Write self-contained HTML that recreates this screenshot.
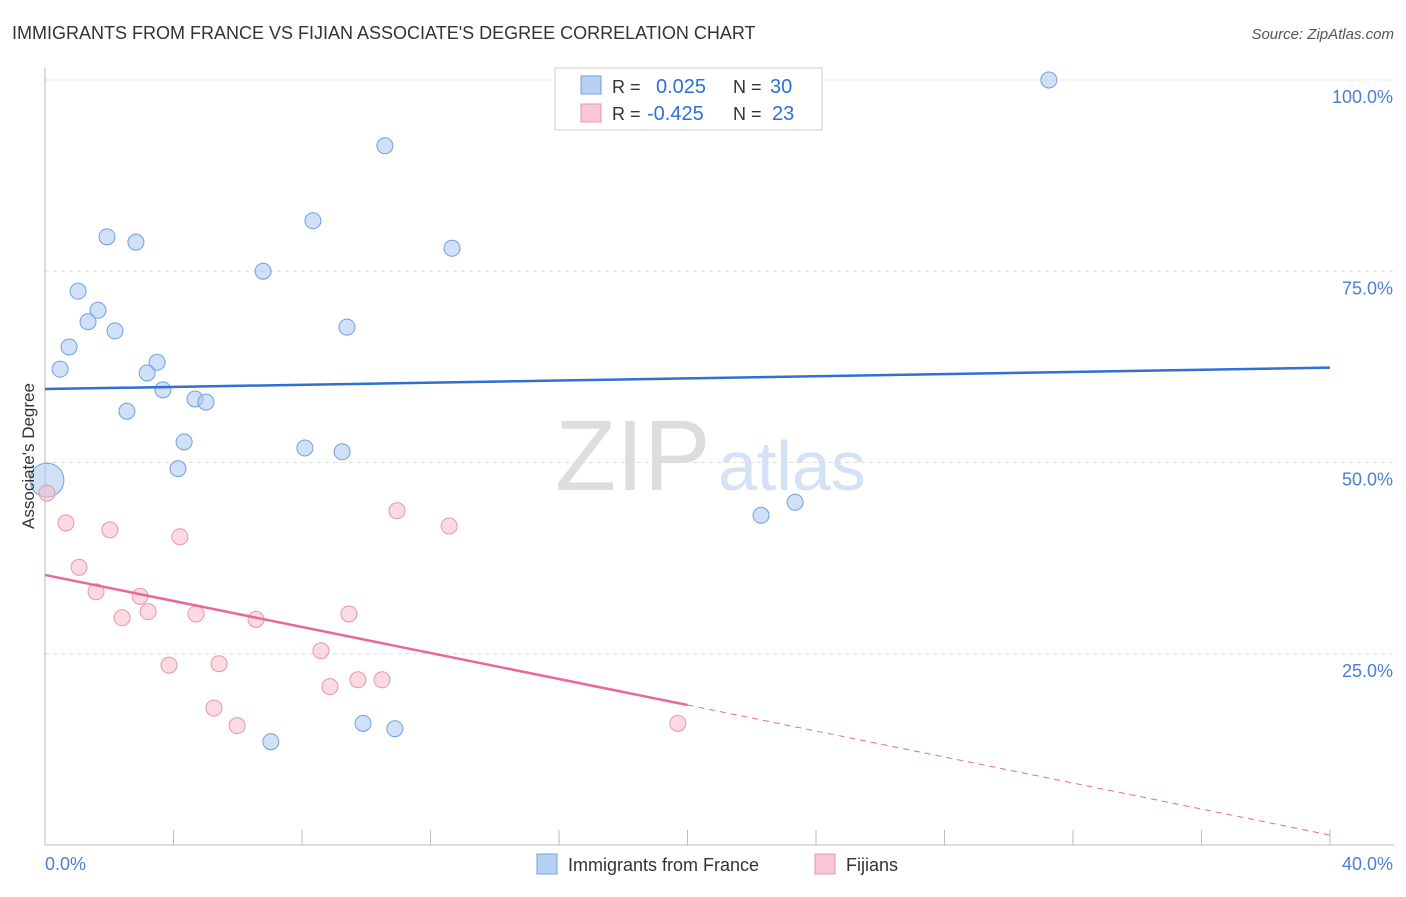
<!DOCTYPE html>
<html><head><meta charset="utf-8"><style>
body{margin:0;background:#fff;font-family:"Liberation Sans",sans-serif}
svg text{font-family:"Liberation Sans",sans-serif}
</style></head><body>
<svg width="1406" height="892" xmlns="http://www.w3.org/2000/svg">
<text x="12" y="39" font-size="18" fill="#333">IMMIGRANTS FROM FRANCE VS FIJIAN ASSOCIATE'S DEGREE CORRELATION CHART</text>
<text x="1394" y="39" font-size="15" fill="#555" text-anchor="end" font-style="italic">Source: ZipAtlas.com</text>
<text x="555" y="490" font-size="100" fill="#ddd" font-family="Liberation Serif,serif">ZIP</text>
<text x="718" y="490" font-size="70" fill="#d4e2f5">atlas</text>
<g id="grid"></g>
<g id="axes"></g>
<g id="marks"></g>
<text transform="translate(34,456) rotate(-90)" font-size="17" fill="#333" text-anchor="middle">Associate's Degree</text>
<text x="45" y="870" font-size="18" fill="#4a7fd4">0.0%</text>
<text x="1393" y="870" font-size="18" fill="#4a7fd4" text-anchor="end">40.0%</text>
<g>
<rect x="555" y="68" width="267" height="62" fill="#fff" stroke="#ccc"/>
<rect x="581" y="76" width="20" height="18" fill="#b7d1f5" stroke="#6fa0de"/>
<rect x="581" y="104" width="20" height="18" fill="#f9c8d6" stroke="#e895ae"/>
<text x="612" y="93" font-size="18" fill="#333">R = </text><text x="656" y="93" font-size="20" fill="#2f6fd6">0.025</text>
<text x="733" y="93" font-size="18" fill="#333">N = </text><text x="770" y="93" font-size="20" fill="#2f6fd6">30</text>
<text x="612" y="120" font-size="18" fill="#333">R = </text><text x="647" y="120" font-size="20" fill="#2f6fd6">-0.425</text>
<text x="733" y="120" font-size="18" fill="#333">N = </text><text x="772" y="120" font-size="20" fill="#2f6fd6">23</text>
</g>
<g>
<rect x="537" y="854" width="20" height="20" fill="#b7d1f5" stroke="#6fa0de"/>
<text x="568" y="871" font-size="18" fill="#333">Immigrants from France</text>
<rect x="815" y="854" width="20" height="20" fill="#f9c8d6" stroke="#e895ae"/>
<text x="846" y="871" font-size="18" fill="#333">Fijians</text>
</g>
</svg>
<script>
const yTicks=[25,50,75,100];
const yTickLabels=["25.0%","50.0%","75.0%","100.0%"];
const xTicks=[0,4,8,12,16,20,24,28,32,36,40];
const franceX=[31.25,10.58,8.34,1.93,2.83,12.67,6.79,1.03,1.65,1.34,9.40,2.18,0.75,3.49,0.47,3.18,3.67,4.67,5.01,2.55,4.33,8.09,9.25,4.14,0.06,22.29,23.35,7.03,9.90,10.89];
const franceY=[100,91.4,81.6,79.5,78.8,78.0,75.0,72.4,69.9,68.4,67.7,67.2,65.1,63.1,62.2,61.7,59.5,58.3,57.9,56.7,52.7,51.9,51.4,49.2,47.7,43.1,44.8,13.5,15.9,15.2];
const fijiX=[0.06,0.65,2.02,4.20,10.96,12.58,1.06,1.59,2.96,3.21,2.40,4.70,6.57,9.46,8.59,3.86,5.42,9.74,10.49,8.87,5.26,5.98,19.70];
const fijiY=[46.0,42.1,41.2,40.3,43.7,41.7,36.3,33.1,32.5,30.5,29.7,30.2,29.5,30.2,25.4,23.5,23.7,21.6,21.6,20.7,17.9,15.6,15.9];
const franceTrend=[59.6,62.4];
const fijiTrend=[35.3,1.3];
const fijiSolidEnd=20;
const NS="http://www.w3.org/2000/svg";
const sx=v=>45+v/40*1285, sy=v=>845-v/100*765;
function mk(t,a,p){const e=document.createElementNS(NS,t);for(const k in a)e.setAttribute(k,a[k]);document.getElementById(p).appendChild(e);return e;}
yTicks.forEach((t,i)=>{
 const l=mk('line',{x1:45,x2:1394,y1:sy(t),y2:sy(t),stroke:'#ddd','stroke-dasharray':'4,4'},'grid');
 
 
 const tx=mk('text',{x:1393,y:sy(t)+23,'font-size':18,fill:'#4a7fd4','text-anchor':'end'},'grid');
 tx.textContent=yTickLabels[i];
 
 
});
const ya=mk('line',{x1:45,x2:45,y1:68,y2:845,stroke:'#bbb'},'axes');


const xa=mk('line',{x1:45,x2:1394,y1:845,y2:845,stroke:'#bbb'},'axes');


xTicks.forEach(t=>{const l=mk('line',{x1:sx(t),x2:sx(t),y1:830,y2:845,stroke:'#bbb'},'axes');
 
 });
franceX.forEach((x,i)=>{const big=(i===24);const c=mk('circle',{cx:sx(x),cy:sy(franceY[i]),r:big?17:8,fill:'#a9c8f0','fill-opacity':0.55,stroke:'#6fa0de','stroke-width':1},'marks');
 
 });
fijiX.forEach((x,i)=>{const c=mk('circle',{cx:sx(x),cy:sy(fijiY[i]),r:8,fill:'#f7bccb','fill-opacity':0.55,stroke:'#e895ae','stroke-width':1},'marks');
 
 });
const bt=mk('line',{x1:sx(0),y1:sy(franceTrend[0]),x2:sx(40),y2:sy(franceTrend[1]),stroke:'#2f6fd6','stroke-width':2.5},'marks');


const fy=v=>fijiTrend[0]+(fijiTrend[1]-fijiTrend[0])*v/40;
const pt=mk('line',{x1:sx(0),y1:sy(fy(0)),x2:sx(fijiSolidEnd),y2:sy(fy(fijiSolidEnd)),stroke:'#e8689a','stroke-width':2.5},'marks');


const pd=mk('line',{x1:sx(fijiSolidEnd),y1:sy(fy(fijiSolidEnd)),x2:sx(40),y2:sy(fy(40)),stroke:'#e8689a','stroke-width':1,'stroke-dasharray':'6,5'},'marks');


</script>
</body></html>
